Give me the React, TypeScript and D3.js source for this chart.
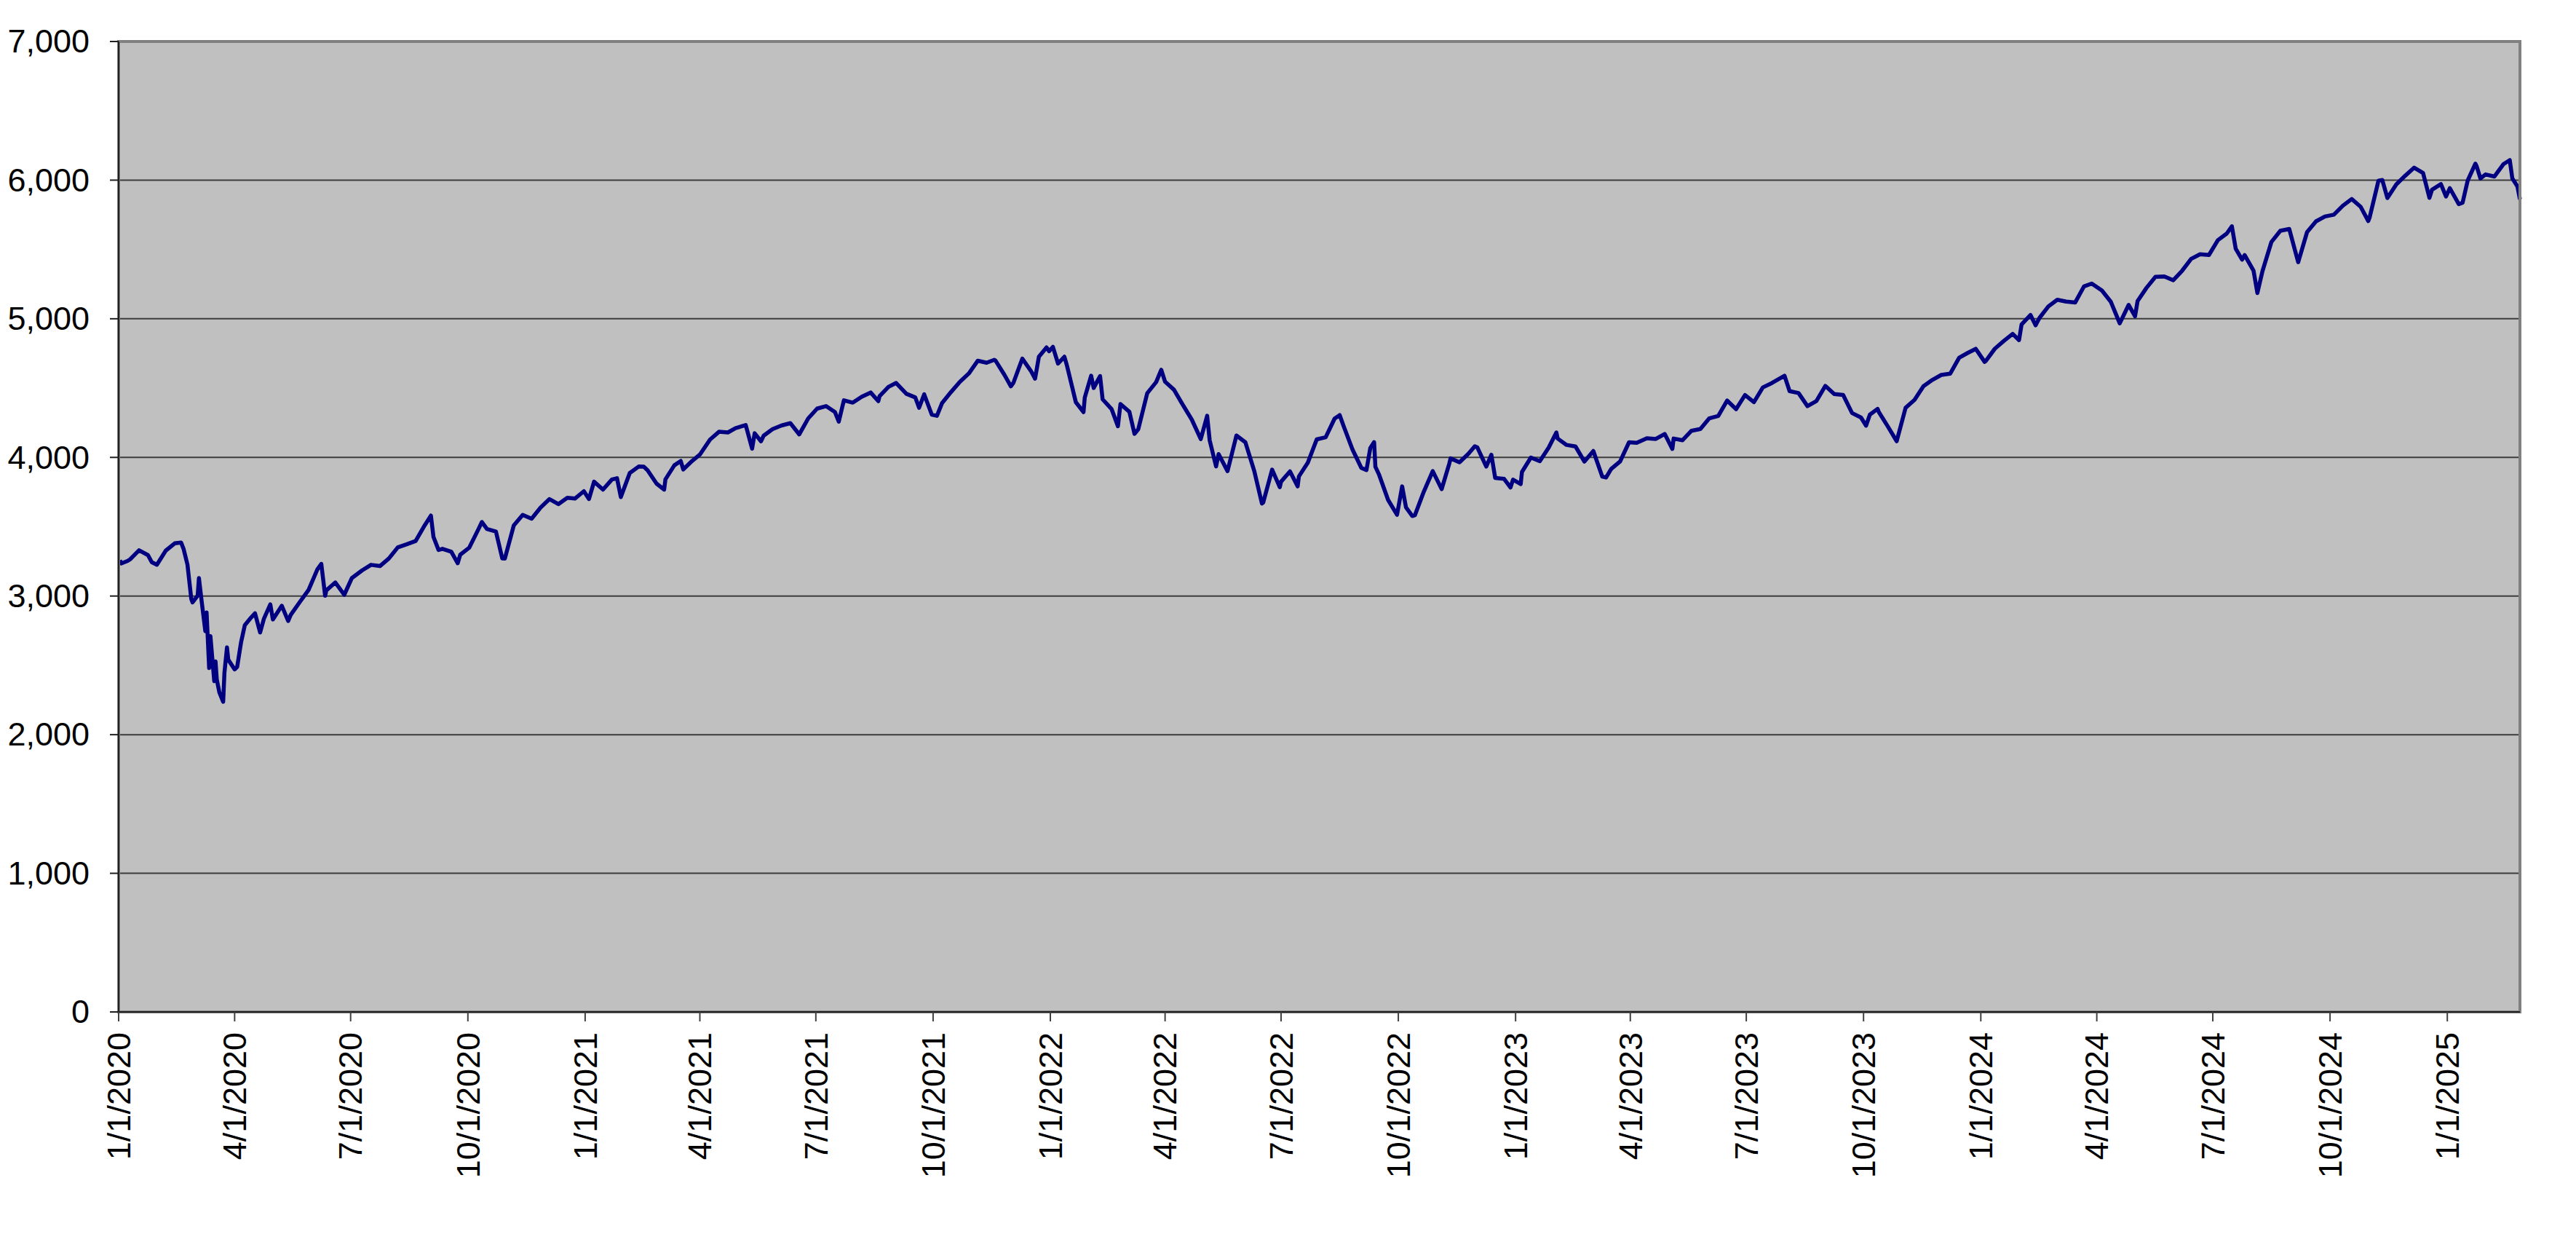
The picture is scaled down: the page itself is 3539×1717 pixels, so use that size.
import { useMemo } from 'react';
import * as d3 from 'd3';

type Close = [string, number];

// index closes (weekly closes plus the visible daily highs and lows)
const closes2020: Close[] = [
  ['2020-01-02', 3258], ['2020-01-03', 3235], ['2020-01-08', 3253], ['2020-01-10', 3265], ['2020-01-17', 3330],
  ['2020-01-24', 3295], ['2020-01-27', 3244], ['2020-01-31', 3226], ['2020-02-07', 3328], ['2020-02-14', 3380],
  ['2020-02-19', 3386], ['2020-02-21', 3338], ['2020-02-24', 3226], ['2020-02-27', 2979], ['2020-02-28', 2954],
  ['2020-03-03', 3003], ['2020-03-04', 3130], ['2020-03-06', 2972], ['2020-03-09', 2747], ['2020-03-10', 2882],
  ['2020-03-12', 2481], ['2020-03-13', 2711], ['2020-03-16', 2386], ['2020-03-17', 2529], ['2020-03-18', 2398],
  ['2020-03-20', 2305], ['2020-03-23', 2237], ['2020-03-24', 2447], ['2020-03-26', 2630], ['2020-03-27', 2541],
  ['2020-04-01', 2471], ['2020-04-03', 2489], ['2020-04-06', 2664], ['2020-04-09', 2790], ['2020-04-14', 2846],
  ['2020-04-17', 2875], ['2020-04-21', 2737], ['2020-04-24', 2837], ['2020-04-29', 2940], ['2020-05-01', 2831],
  ['2020-05-08', 2930], ['2020-05-13', 2820], ['2020-05-15', 2864], ['2020-05-22', 2955], ['2020-05-29', 3044],
  ['2020-06-05', 3194], ['2020-06-08', 3232], ['2020-06-11', 3002], ['2020-06-12', 3041], ['2020-06-19', 3098],
  ['2020-06-26', 3009], ['2020-07-02', 3130], ['2020-07-10', 3185], ['2020-07-17', 3225], ['2020-07-24', 3216],
  ['2020-07-31', 3271], ['2020-08-07', 3351], ['2020-08-14', 3373], ['2020-08-21', 3397], ['2020-08-28', 3508],
  ['2020-09-02', 3580], ['2020-09-04', 3427], ['2020-09-08', 3332], ['2020-09-11', 3341], ['2020-09-18', 3319],
  ['2020-09-23', 3237], ['2020-09-25', 3298], ['2020-10-02', 3348], ['2020-10-09', 3477], ['2020-10-12', 3534],
  ['2020-10-16', 3484], ['2020-10-23', 3465], ['2020-10-28', 3271], ['2020-10-30', 3270], ['2020-11-06', 3509],
  ['2020-11-13', 3585], ['2020-11-20', 3558], ['2020-11-27', 3638], ['2020-12-04', 3699], ['2020-12-11', 3663],
  ['2020-12-18', 3709], ['2020-12-24', 3703], ['2020-12-31', 3756],
];

const closes2021: Close[] = [
  ['2021-01-04', 3700], ['2021-01-08', 3825], ['2021-01-15', 3768], ['2021-01-22', 3841], ['2021-01-26', 3850],
  ['2021-01-29', 3714], ['2021-02-05', 3887], ['2021-02-12', 3934], ['2021-02-16', 3933], ['2021-02-19', 3907],
  ['2021-02-26', 3811], ['2021-03-04', 3768], ['2021-03-05', 3842], ['2021-03-12', 3943], ['2021-03-17', 3974],
  ['2021-03-19', 3913], ['2021-03-26', 3975], ['2021-04-01', 4020], ['2021-04-09', 4129], ['2021-04-16', 4185],
  ['2021-04-23', 4180], ['2021-04-29', 4211], ['2021-05-07', 4233], ['2021-05-12', 4063], ['2021-05-14', 4174],
  ['2021-05-19', 4116], ['2021-05-21', 4156], ['2021-05-28', 4204], ['2021-06-04', 4230], ['2021-06-11', 4247],
  ['2021-06-18', 4166], ['2021-06-25', 4281], ['2021-07-02', 4352], ['2021-07-09', 4370], ['2021-07-16', 4327],
  ['2021-07-19', 4258], ['2021-07-23', 4412], ['2021-07-30', 4395], ['2021-08-06', 4437], ['2021-08-13', 4468],
  ['2021-08-19', 4406], ['2021-08-20', 4442], ['2021-08-27', 4509], ['2021-09-02', 4537], ['2021-09-10', 4459],
  ['2021-09-17', 4433], ['2021-09-20', 4358], ['2021-09-24', 4455], ['2021-09-30', 4308], ['2021-10-04', 4300],
  ['2021-10-08', 4391], ['2021-10-15', 4471], ['2021-10-22', 4545], ['2021-10-29', 4605], ['2021-11-05', 4697],
  ['2021-11-12', 4683], ['2021-11-18', 4704], ['2021-11-19', 4698], ['2021-11-26', 4595], ['2021-12-01', 4513],
  ['2021-12-03', 4538], ['2021-12-10', 4712], ['2021-12-17', 4620], ['2021-12-20', 4568], ['2021-12-23', 4726],
  ['2021-12-29', 4793], ['2021-12-31', 4766],
];

const closes2022: Close[] = [
  ['2022-01-03', 4797], ['2022-01-07', 4677], ['2022-01-12', 4726], ['2022-01-14', 4663], ['2022-01-21', 4398],
  ['2022-01-27', 4327], ['2022-01-28', 4432], ['2022-02-02', 4589], ['2022-02-04', 4501], ['2022-02-09', 4587],
  ['2022-02-11', 4419], ['2022-02-18', 4349], ['2022-02-23', 4225], ['2022-02-25', 4385], ['2022-03-04', 4329],
  ['2022-03-08', 4170], ['2022-03-11', 4204], ['2022-03-18', 4463], ['2022-03-25', 4543], ['2022-03-29', 4632],
  ['2022-04-01', 4546], ['2022-04-08', 4488], ['2022-04-14', 4393], ['2022-04-22', 4272], ['2022-04-29', 4132],
  ['2022-05-04', 4300], ['2022-05-06', 4123], ['2022-05-11', 3935], ['2022-05-13', 4024], ['2022-05-20', 3901],
  ['2022-05-27', 4158], ['2022-06-03', 4109], ['2022-06-10', 3901], ['2022-06-16', 3667], ['2022-06-17', 3675],
  ['2022-06-24', 3912], ['2022-06-30', 3785], ['2022-07-01', 3825], ['2022-07-08', 3899], ['2022-07-14', 3791],
  ['2022-07-15', 3863], ['2022-07-22', 3962], ['2022-07-29', 4130], ['2022-08-05', 4145], ['2022-08-12', 4280],
  ['2022-08-16', 4305], ['2022-08-19', 4228], ['2022-08-26', 4058], ['2022-09-02', 3924], ['2022-09-06', 3909],
  ['2022-09-09', 4067], ['2022-09-12', 4110], ['2022-09-13', 3933], ['2022-09-16', 3873], ['2022-09-23', 3693],
  ['2022-09-30', 3586], ['2022-10-04', 3791], ['2022-10-07', 3640], ['2022-10-12', 3577], ['2022-10-14', 3583],
  ['2022-10-21', 3753], ['2022-10-28', 3901], ['2022-11-04', 3771], ['2022-11-10', 3956], ['2022-11-11', 3993],
  ['2022-11-18', 3965], ['2022-11-25', 4026], ['2022-11-30', 4080], ['2022-12-02', 4072], ['2022-12-09', 3934],
  ['2022-12-13', 4019], ['2022-12-16', 3852], ['2022-12-23', 3845], ['2022-12-28', 3783], ['2022-12-30', 3840],
];

const closes2023: Close[] = [
  ['2023-01-05', 3808], ['2023-01-06', 3895], ['2023-01-13', 3999], ['2023-01-20', 3973], ['2023-01-27', 4071],
  ['2023-02-02', 4180], ['2023-02-03', 4136], ['2023-02-10', 4090], ['2023-02-17', 4079], ['2023-02-24', 3970],
  ['2023-03-03', 4046], ['2023-03-10', 3862], ['2023-03-13', 3855], ['2023-03-17', 3917], ['2023-03-24', 3971],
  ['2023-03-31', 4109], ['2023-04-06', 4105], ['2023-04-14', 4138], ['2023-04-21', 4133], ['2023-04-28', 4169],
  ['2023-05-04', 4061], ['2023-05-05', 4136], ['2023-05-12', 4124], ['2023-05-19', 4192], ['2023-05-26', 4205],
  ['2023-06-02', 4282], ['2023-06-09', 4299], ['2023-06-16', 4410], ['2023-06-23', 4348], ['2023-06-30', 4450],
  ['2023-07-07', 4399], ['2023-07-14', 4505], ['2023-07-21', 4536], ['2023-07-31', 4589], ['2023-08-04', 4478],
  ['2023-08-11', 4464], ['2023-08-18', 4370], ['2023-08-25', 4406], ['2023-09-01', 4516], ['2023-09-08', 4457],
  ['2023-09-15', 4450], ['2023-09-22', 4320], ['2023-09-29', 4288], ['2023-10-03', 4229], ['2023-10-06', 4309],
  ['2023-10-12', 4350], ['2023-10-13', 4327], ['2023-10-20', 4224], ['2023-10-27', 4117], ['2023-11-03', 4358],
  ['2023-11-10', 4415], ['2023-11-17', 4514], ['2023-11-24', 4559], ['2023-12-01', 4595], ['2023-12-08', 4604],
  ['2023-12-15', 4719], ['2023-12-22', 4755], ['2023-12-28', 4783], ['2023-12-29', 4770],
];

const closes2024: Close[] = [
  ['2024-01-04', 4689], ['2024-01-05', 4697], ['2024-01-12', 4784], ['2024-01-19', 4840], ['2024-01-26', 4891],
  ['2024-01-31', 4846], ['2024-02-02', 4959], ['2024-02-09', 5027], ['2024-02-13', 4953], ['2024-02-16', 5006],
  ['2024-02-23', 5089], ['2024-03-01', 5137], ['2024-03-08', 5124], ['2024-03-15', 5117], ['2024-03-22', 5234],
  ['2024-03-28', 5254], ['2024-04-05', 5204], ['2024-04-12', 5123], ['2024-04-19', 4967], ['2024-04-26', 5100],
  ['2024-05-01', 5018], ['2024-05-03', 5128], ['2024-05-10', 5223], ['2024-05-17', 5303], ['2024-05-24', 5305],
  ['2024-05-31', 5278], ['2024-06-07', 5347], ['2024-06-14', 5432], ['2024-06-21', 5465], ['2024-06-28', 5460],
  ['2024-07-05', 5567], ['2024-07-12', 5615], ['2024-07-16', 5667], ['2024-07-19', 5505], ['2024-07-24', 5427],
  ['2024-07-26', 5459], ['2024-08-02', 5346], ['2024-08-05', 5186], ['2024-08-09', 5344], ['2024-08-16', 5554],
  ['2024-08-23', 5635], ['2024-08-30', 5648], ['2024-09-06', 5408], ['2024-09-13', 5626], ['2024-09-20', 5703],
  ['2024-09-27', 5738], ['2024-10-04', 5751], ['2024-10-11', 5815], ['2024-10-18', 5864], ['2024-10-25', 5808],
  ['2024-10-31', 5705], ['2024-11-01', 5729], ['2024-11-08', 5996], ['2024-11-11', 6001], ['2024-11-15', 5871],
  ['2024-11-22', 5969], ['2024-11-29', 6032], ['2024-12-06', 6090], ['2024-12-13', 6051], ['2024-12-18', 5872],
  ['2024-12-20', 5931], ['2024-12-27', 5971], ['2024-12-31', 5882],
];

const closes2025: Close[] = [
  ['2025-01-03', 5942], ['2025-01-10', 5827], ['2025-01-13', 5837], ['2025-01-17', 5997], ['2025-01-23', 6119],
  ['2025-01-24', 6101], ['2025-01-27', 6012], ['2025-01-31', 6041], ['2025-02-07', 6026], ['2025-02-14', 6115],
  ['2025-02-19', 6144], ['2025-02-21', 6013], ['2025-02-25', 5955], ['2025-02-27', 5861],
];

const yTicks = [0, 1000, 2000, 3000, 4000, 5000, 6000, 7000];
const xTickDates = [
  '2020-01-01', '2020-04-01', '2020-07-01', '2020-10-01',
  '2021-01-01', '2021-04-01', '2021-07-01', '2021-10-01',
  '2022-01-01', '2022-04-01', '2022-07-01', '2022-10-01',
  '2023-01-01', '2023-04-01', '2023-07-01', '2023-10-01',
  '2024-01-01', '2024-04-01', '2024-07-01', '2024-10-01',
  '2025-01-01',
];
const xStart = '2020-01-01';
const xEnd = '2025-02-27';

const width = 3539;
const height = 1717;
const margin = { top: 57, right: 77, bottom: 327, left: 163 };
const fontFamily = '"Liberation Sans", Arial, sans-serif';

const parseDate = d3.timeParse('%Y-%m-%d');
const formatTick = d3.timeFormat('%-m/%-d/%Y');
const formatValue = d3.format(',');

export default function App() {
  const innerWidth = width - margin.left - margin.right;
  const innerHeight = height - margin.top - margin.bottom;

  const series = useMemo(
    () =>
      [...closes2020, ...closes2021, ...closes2022, ...closes2023, ...closes2024, ...closes2025].map(([d, v]) => ({
        date: parseDate(d) as Date,
        value: v,
      })),
    []
  );

  const x = d3.scaleTime().domain([parseDate(xStart) as Date, parseDate(xEnd) as Date]).range([0, innerWidth]);
  const y = d3.scaleLinear().domain([0, 7000]).range([innerHeight, 0]);

  const linePath = d3
    .line<{ date: Date; value: number }>()
    .x((d) => x(d.date))
    .y((d) => y(d.value))(series) ?? '';

  return (
    <svg
      width={width}
      height={height}
      style={{ position: 'absolute', left: 0, top: 0, background: '#ffffff' }}
      fontFamily={fontFamily}
    >
      <g transform={`translate(${margin.left},${margin.top})`}>
        <rect x={0} y={0} width={innerWidth} height={innerHeight} fill="#c0c0c0" />

        {yTicks.slice(1, -1).map((t) => (
          <line key={t} x1={0} x2={innerWidth} y1={y(t)} y2={y(t)} stroke="#3c3c3c" strokeWidth={2} />
        ))}

        <path d={linePath} fill="none" stroke="#000080" strokeWidth={5.5} strokeLinejoin="round" />

        <rect x={0} y={0} width={innerWidth} height={innerHeight} fill="none" stroke="#808080" strokeWidth={4} />
        <line x1={0} x2={0} y1={0} y2={innerHeight} stroke="#202020" strokeWidth={2} />
        <line x1={0} x2={innerWidth} y1={innerHeight} y2={innerHeight} stroke="#202020" strokeWidth={2} />

        {yTicks.map((t) => (
          <g key={t} transform={`translate(0,${y(t)})`}>
            <line x1={-12} x2={0} stroke="#202020" strokeWidth={2} />
            <text x={-40} dy="0.34em" textAnchor="end" fontSize={45} fill="#000">
              {formatValue(t)}
            </text>
          </g>
        ))}

        {xTickDates.map((d) => {
          const date = parseDate(d) as Date;
          const px = x(date);
          return (
            <g key={d} transform={`translate(${px},${innerHeight})`}>
              <line y1={0} y2={13} stroke="#404040" strokeWidth={2} />
              <text
                transform="translate(0,28) rotate(-90)"
                dy="0.35em"
                textAnchor="end"
                fontSize={45}
                fill="#000"
              >
                {formatTick(date)}
              </text>
            </g>
          );
        })}
      </g>
    </svg>
  );
}
